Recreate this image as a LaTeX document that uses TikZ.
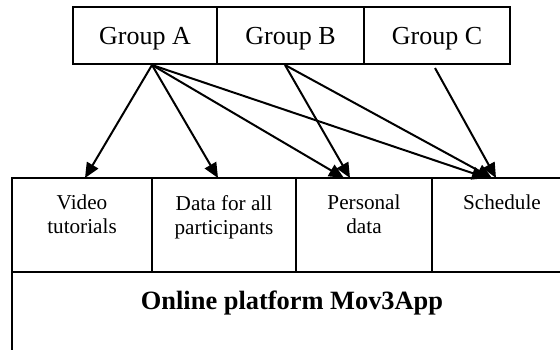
\documentclass[tikz,border=0pt]{standalone}
\usepackage{fontspec}
\setmainfont{Liberation Serif}
\usetikzlibrary{arrows.meta}
\begin{document}
\begin{tikzpicture}[x=1pt,y=-1pt,
  box/.style={draw, line width=1.5pt, inner sep=0pt},
  grp/.style={box, minimum height=57pt, font=\fontsize{26}{30}\selectfont, text height=20pt, text depth=1pt},
  cellbox/.style={box, minimum height=94pt},
  celltext/.style={inner sep=0pt, anchor=north, align=center, font=\fontsize{21.2}{24}\selectfont},
  arr/.style={line width=2pt, -{Triangle[length=15pt,width=13pt]}},
]
\useasboundingbox (0,0) rectangle (560,350);
\clip (0,0) rectangle (560,350);
% groups
\node[grp, minimum width=144pt] (ga) at (145,35.5) {Group A};
\node[grp, minimum width=147pt] (gb) at (290.5,35.5) {Group B};
\node[grp, minimum width=146pt] (gc) at (437,35.5) {Group C};
% cells
\node[cellbox, minimum width=140pt] (c1) at (82,225) {};
\node[cellbox, minimum width=144pt] (c2) at (224,225) {};
\node[cellbox, minimum width=136pt] (c3) at (364,225) {};
\node[cellbox, minimum width=140pt] (c4) at (502,225) {};
\node[box, minimum width=560pt, minimum height=128pt] (plat) at (292,336) {};
\node[celltext] (t1) at (82,195) {Video\\tutorials};
\node[celltext] (t2) at (224,195) {Data for all\\participants};
\node[celltext] (t3) at (364,195) {Personal\\data};
\node[celltext] (t4) at (502,195) {Schedule};
\node[inner sep=0pt, anchor=base, font=\fontsize{26.4}{30}\selectfont\bfseries] (title) at (292,309.5) {Online platform Mov3App};
% connector ends
\coordinate (sA) at (152,65);
\coordinate (sB) at (285,65);
\coordinate (sC) at (435,68);
\coordinate (tV) at (85,178);
\coordinate (tD) at (218,178);
\coordinate (tPA) at (344,178);
\coordinate (tPB) at (350,178);
\coordinate (tSA) at (487,178);
\coordinate (tSB) at (492,178);
\coordinate (tSC) at (496,178);
\draw[arr] (sA) -- (tV);
\draw[arr] (sA) -- (tD);
\draw[arr] (sA) -- (tPA);
\draw[arr] (sA) -- (tSA);
\draw[arr] (sB) -- (tPB);
\draw[arr] (sB) -- (tSB);
\draw[arr] (sC) -- (tSC);
\end{tikzpicture}
\end{document}
